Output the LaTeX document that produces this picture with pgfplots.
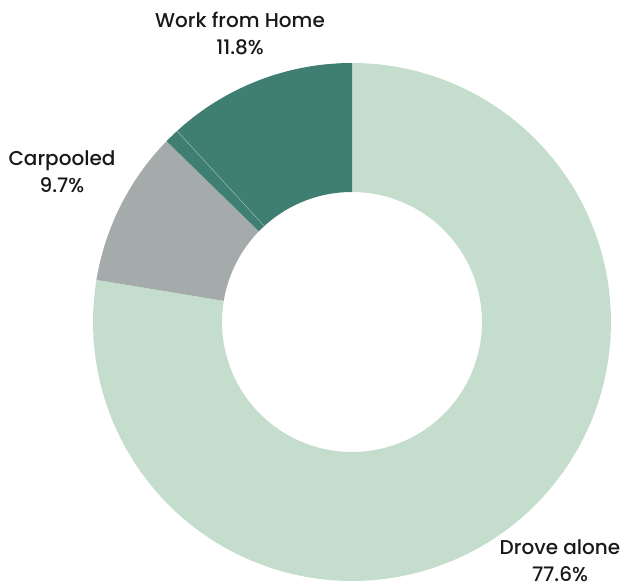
\documentclass[border=0pt]{standalone}
\usepackage{pgfplots}
\pgfplotsset{compat=1.18}
\usepgfplotslibrary{fillbetween}
\usepackage{fontspec}
\setmainfont{Poppins}
\newfontfamily\medfont{Poppins Medium}
\definecolor{cDrove}{HTML}{C4DDCC}
\definecolor{cCar}{HTML}{A4ABAA}
\definecolor{cWfh}{HTML}{3E7F72}
% shares (percent), clockwise from 12 o'clock
\pgfmathsetmacro\vA{77.6}
\pgfmathsetmacro\vB{9.7}
\pgfmathsetmacro\vC{0.9}
\pgfmathsetmacro\vD{11.8}
\pgfmathsetmacro\aA{90}
\pgfmathsetmacro\aB{\aA-3.6*\vA}
\pgfmathsetmacro\aC{\aB-3.6*\vB}
\pgfmathsetmacro\aD{\aC-3.6*\vC}
\pgfmathsetmacro\aE{\aD-3.6*\vD}
\newcommand\slice[4]{%
  \addplot[draw=none, name path=o#4, domain=#1:#2, samples=150] ({259*cos(x)},{259*sin(x)});
  \addplot[draw=none, name path=i#4, domain=#1:#2, samples=150] ({130*cos(x)},{130*sin(x)});
  \addplot[fill=#3, draw=none] fill between[of=o#4 and i#4];
}
\begin{document}
\begin{tikzpicture}
\begin{axis}[hide axis, scale only axis, width=311.5pt, height=294pt,
  xmin=-352, xmax=271, ymin=-266, ymax=322, clip=false]
\slice{\aA}{\aB}{cDrove}{a}
\slice{\aB}{\aC}{cCar}{b}
\slice{\aC}{\aD}{cWfh}{c}
\slice{\aD}{\aE}{cWfh}{d}
\addplot[white, opacity=0.35, line width=0.3pt, domain=130:259, samples=2] ({x*cos(\aD)},{x*sin(\aD)});
\coordinate (bl) at (rel axis cs:0,0);
\coordinate (tr) at (rel axis cs:1,1);
\node[align=center, font=\fontsize{10}{13.5}\selectfont, text=black!90] at (axis cs:-112,289) {{\medfont Work from Home}\\{\medfont 11.8\%}};
\node[align=center, font=\fontsize{10}{13.5}\selectfont, text=black!90] at (axis cs:-290,150) {{\medfont Carpooled}\\{\medfont 9.7\%}};
\node[align=center, font=\fontsize{10}{13.5}\selectfont, text=black!90] at (axis cs:208,-239) {{\medfont Drove alone}\\{\medfont 77.6\%}};
\end{axis}
\pgfresetboundingbox
\path (bl) rectangle (tr);
\end{tikzpicture}
\end{document}
